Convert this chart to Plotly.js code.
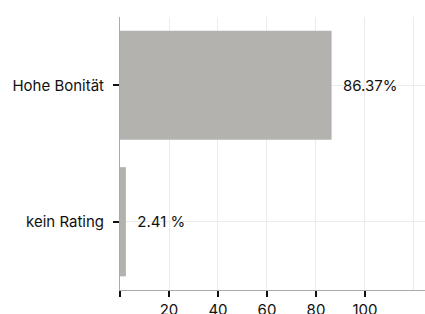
<!DOCTYPE html>
<html>
<head>
<meta charset="utf-8">
<script src="https://cdn.plot.ly/plotly-3.0.1.min.js"></script>
<style>html,body{margin:0;padding:0;overflow:hidden;background:#fff;}</style>
</head>
<body>
<div id="chart" style="width:425px;height:340px;"></div>
<script>
const categories = ['Hohe Bonität', 'kein Rating'];
const values = [86.37, 2.41];
const valueLabels = ['86.37%', '2.41 %'];
const xTicks = [0, 20, 40, 60, 80, 100];
const xTickLabels = ['', '20', '40', '60', '80', '100'];
const xExtraGrid = [120];

const trace = {
  type: 'bar',
  orientation: 'h',
  y: categories,
  x: values,
  text: valueLabels.map(t => '\u00a0\u00a0' + t),
  textposition: 'outside',
  cliponaxis: false,
  textfont: {family: 'Inter, sans-serif', size: 15, color: '#111'},
  marker: {color: '#b3b2ae'},
  width: 0.8,
  hoverinfo: 'none'
};

const layout = {
  width: 425,
  height: 340,
  margin: {l: 120, r: 0, t: 17, b: 50},
  paper_bgcolor: '#fff',
  plot_bgcolor: '#fff',
  font: {family: 'Inter, sans-serif', size: 15, color: '#111'},
  showlegend: false,
  xaxis: {
    range: [0, 124.5],
    tickvals: xTicks,
    ticktext: xTickLabels,
    showgrid: true,
    gridcolor: '#ebebeb',
    gridwidth: 1,
    minor: {tickvals: xExtraGrid, showgrid: true, gridcolor: '#ebebeb', gridwidth: 1, ticks: ''},
    zeroline: false,
    showline: true,
    linecolor: '#aaaaaa',
    linewidth: 1,
    ticks: 'outside',
    ticklen: 6,
    tickwidth: 2,
    tickcolor: '#111',
    tickfont: {size: 15}
  },
  yaxis: {
    autorange: 'reversed',
    showgrid: true,
    gridcolor: '#ebebeb',
    zeroline: false,
    showline: true,
    linecolor: '#aaaaaa',
    linewidth: 1,
    ticks: 'outside',
    ticklen: 6,
    tickwidth: 2,
    tickcolor: '#111',
    ticklabelstandoff: 6
  }
};

Plotly.newPlot('chart', [trace], layout, {displayModeBar: false, staticPlot: true});
</script>
</body>
</html>
